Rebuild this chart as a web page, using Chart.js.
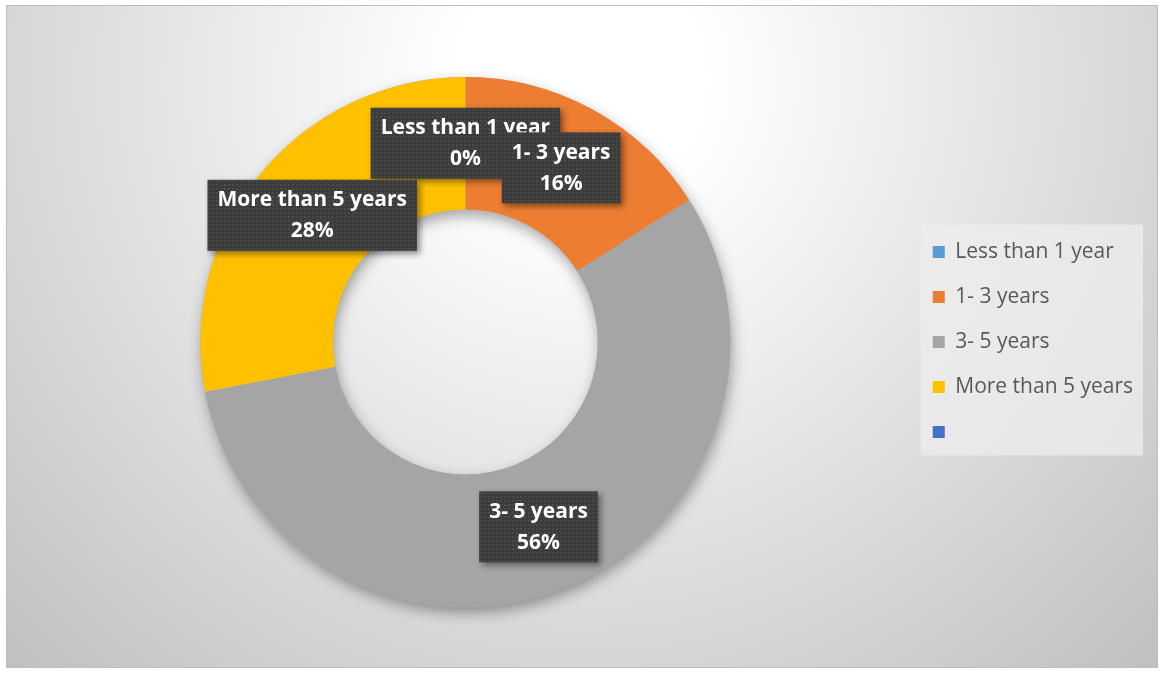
<!DOCTYPE html>
<html>
<head>
<meta charset="utf-8">
<script src="https://cdn.jsdelivr.net/npm/chart.js@4.4.1/dist/chart.umd.min.js"></script>
<style>
  html, body { margin: 0; padding: 0; background: #fff; }
  #wrap { position: relative; width: 1160px; height: 674px; }
</style>
</head>
<body>
<div id="wrap"><canvas id="tenureChart"></canvas></div>
<script>
const categories = ['Less than 1 year', '1- 3 years', '3- 5 years', 'More than 5 years', ''];
const shares = [0, 16, 56, 28, 0];
const sliceColors = ['#5B9BD5', '#ED7D31', '#A5A5A5', '#FFC000', '#4472C4'];

const FONT = '"Open Sans", "Liberation Sans", sans-serif';

// dotted dark fill used by the data label boxes
function crearPatronEtiqueta(ctx) {
  const tile = document.createElement('canvas');
  tile.width = 4;
  tile.height = 4;
  const t = tile.getContext('2d');
  t.fillStyle = '#3c3c3c';
  t.fillRect(0, 0, 4, 4);
  t.fillStyle = '#4a4a4a';
  t.fillRect(0, 0, 2, 2);
  return ctx.createPattern(tile, 'repeat');
}

const fondoPlugin = {
  id: 'fondo',
  beforeDraw(chart) {
    const { ctx, width, height } = chart;
    ctx.save();
    ctx.fillStyle = '#fff';
    ctx.fillRect(0, 0, width, height);
    const g = ctx.createRadialGradient(580, 80, 0, 580, 80, 820);
    g.addColorStop(0, '#ffffff');
    g.addColorStop(0.15, '#ffffff');
    g.addColorStop(1, '#c0c0c0');
    ctx.fillStyle = g;
    ctx.fillRect(6, 5, width - 8, height - 11);
    ctx.strokeStyle = '#bdbdbd';
    ctx.lineWidth = 1;
    ctx.strokeRect(6.5, 5.5, width - 9, height - 12);

    // legend panel behind the built-in legend
    const lg = chart.legend;
    if (lg && lg.columnSizes && lg.columnSizes.length) {
      const pad = lg.options.labels.padding;
      const col = lg.columnSizes[0];
      const y0 = (lg.top + pad + lg.bottom - col.height) / 2;
      const x0 = lg.left + pad - 12;
      ctx.fillStyle = 'rgba(238,238,238,0.75)';
      ctx.fillRect(x0, y0 - 17, lg.right - x0, col.height - pad + 30);
    }
    ctx.restore();
  }
};

const sombraAnilloPlugin = {
  id: 'sombraAnillo',
  beforeDatasetsDraw(chart) {
    const arc = chart.getDatasetMeta(0).data[0];
    if (!arc) return;
    const { x, y, innerRadius, outerRadius } = arc.getProps(['x', 'y', 'innerRadius', 'outerRadius'], true);
    const ctx = chart.ctx;
    ctx.save();
    ctx.shadowColor = 'rgba(0,0,0,0.35)';
    ctx.shadowBlur = 14;
    ctx.shadowOffsetX = 2;
    ctx.shadowOffsetY = 6;
    ctx.beginPath();
    ctx.arc(x, y, outerRadius, 0, Math.PI * 2);
    ctx.arc(x, y, innerRadius, 0, Math.PI * 2, true);
    ctx.fillStyle = '#b0b0b0';
    ctx.fill();
    ctx.restore();
  }
};

const etiquetasPlugin = {
  id: 'etiquetas',
  afterDatasetsDraw(chart) {
    const ctx = chart.ctx;
    const meta = chart.getDatasetMeta(0);
    const patron = crearPatronEtiqueta(ctx);
    ctx.save();
    ctx.font = `bold 21px ${FONT}`;
    meta.data.forEach((arc, i) => {
      const label = chart.data.labels[i];
      if (!label) return;
      const value = chart.data.datasets[0].data[i];
      const lines = [label, `${value}%`];
      const w = Math.max(...lines.map(l => ctx.measureText(l).width)) + 20;
      const h = 71;
      const c = arc.getCenterPoint();
      const bx = c.x - w / 2;
      const by = c.y - h / 2;

      ctx.save();
      ctx.shadowColor = 'rgba(0,0,0,0.45)';
      ctx.shadowBlur = 6;
      ctx.shadowOffsetX = 3;
      ctx.shadowOffsetY = 3;
      ctx.fillStyle = patron;
      ctx.fillRect(bx, by, w, h);
      ctx.restore();

      ctx.fillStyle = '#ffffff';
      ctx.textAlign = 'center';
      ctx.textBaseline = 'middle';
      ctx.fillText(lines[0], c.x, c.y - 15);
      ctx.fillText(lines[1], c.x, c.y + 16);
    });
    ctx.restore();
  }
};

new Chart(document.getElementById('tenureChart'), {
  type: 'doughnut',
  data: {
    labels: categories,
    datasets: [{
      data: shares,
      backgroundColor: sliceColors,
      borderWidth: 0,
      radius: 265
    }]
  },
  options: {
    responsive: true,
    maintainAspectRatio: false,
    animation: false,
    cutout: '50%',
    layout: {
      padding: { left: 22, right: 17, top: 40, bottom: 30 }
    },
    plugins: {
      legend: {
        position: 'right',
        labels: {
          boxWidth: 12,
          boxHeight: 12,
          padding: 24,
          color: '#595959',
          font: { family: FONT, size: 21 }
        }
      },
      tooltip: { enabled: false }
    }
  },
  plugins: [fondoPlugin, sombraAnilloPlugin, etiquetasPlugin]
});
</script>
</body>
</html>
